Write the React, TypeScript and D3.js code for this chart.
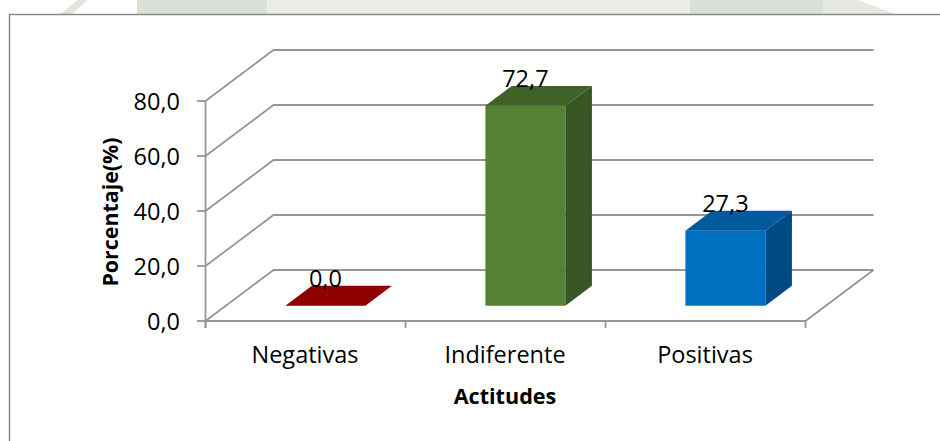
import * as d3 from "d3";

const categories = ["Negativas", "Indiferente", "Positivas"];
const values = [0.0, 72.7, 27.3];
const yTicks = [0, 20, 40, 60, 80];
const frontColors = ["#8f0000", "#548235", "#0070c0"];
const topColors = ["#8f0000", "#3f6229", "#005a9e"];
const sideColors = ["#6e0000", "#375623", "#004a84"];

const W = 940;
const H = 441;
const baseY = 321;
const depthX = 68;
const depthY = 51;
const barFront = 0.3;
const barBack = 0.69;
const barWidth = 80;

const fmt = (v: number) => v.toFixed(1).replace(".", ",");

export default function App() {
  const x = d3.scaleBand<string>().domain(categories).range([205, 805]);
  const y = d3.scaleLinear().domain([0, 80]).range([0, 220]);

  // project (x, value, depth fraction) onto the screen
  const pt = (px: number, v: number, d: number): [number, number] => [
    px + d * depthX,
    baseY - y(v) - d * depthY,
  ];
  const poly = (pts: [number, number][]) => d3.line()(pts.concat([pts[0]])) as string;

  const gridColor = "#969696";
  const font = "'Open Sans', sans-serif";
  const fs = 23.5;

  return (
    <svg
      width={W}
      height={H}
      style={{ position: "absolute", left: 0, top: 0, background: "#fff" }}
    >
      {/* faint watermark above the frame */}
      <g opacity={0.85}>
        <polygon points="60,14 72,14 88,0 78,0" fill="#dde2d7" />
        <rect x={137} y={0} width={130} height={14} fill="#d5dbcf" />
        <rect x={267} y={0} width={423} height={14} fill="#e7eae3" />
        <rect x={690} y={0} width={133} height={14} fill="#d5dbcf" />
        <polygon points="823,0 858,0 895,14 823,14" fill="#e0e5db" />
      </g>
      <rect x={9.5} y={14.5} width={960} height={460} fill="#fff" stroke="#8a8a8a" strokeWidth={1.5} />

      {/* walls and gridlines */}
      {yTicks.map((t) => {
        const a = pt(205.5, t, 0);
        const b = pt(205.5, t, 1);
        const c = pt(805.5, t, 1);
        return (
          <g key={t}>
            <path d={d3.line()([a, b, c]) as string} fill="none" stroke={gridColor} strokeWidth={1.8} />
            <line x1={197} x2={205.5} y1={a[1]} y2={a[1]} stroke={gridColor} strokeWidth={1.8} />
            <text x={180} y={a[1] + 8.5} textAnchor="end" fontFamily={font} fontSize={fs} fill="#000">
              {fmt(t)}
            </text>
          </g>
        );
      })}
      <line x1={205.5} x2={205.5} y1={pt(0, 80, 0)[1]} y2={baseY + 7} stroke={gridColor} strokeWidth={1.8} />
      <path
        d={d3.line()([pt(205.5, 0, 0), pt(805.5, 0, 0), pt(805.5, 0, 1)]) as string}
        fill="none"
        stroke={gridColor}
        strokeWidth={1.8}
      />
      {[...categories.map((c) => x(c) as number), 805].map((px, i) => (
        <line key={i} x1={px + 0.5} x2={px + 0.5} y1={baseY} y2={baseY + 7} stroke={gridColor} strokeWidth={1.8} />
      ))}

      {/* 3D bars */}
      {categories.map((c, i) => {
        const v = values[i];
        const cx = (x(c) as number) + x.bandwidth() / 2;
        const l = cx - barWidth / 2;
        const r = cx + barWidth / 2;
        const front = [pt(l, 0, barFront), pt(r, 0, barFront), pt(r, v, barFront), pt(l, v, barFront)];
        const side = [pt(r, 0, barFront), pt(r, 0, barBack), pt(r, v, barBack), pt(r, v, barFront)];
        const top = [pt(l, v, barFront), pt(r, v, barFront), pt(r, v, barBack), pt(l, v, barBack)];
        const lbl = pt(cx, v, barBack);
        return (
          <g key={c}>
            {v > 0 && <path d={poly(front)} fill={frontColors[i]} />}
            {v > 0 && <path d={poly(side)} fill={sideColors[i]} />}
            <path d={poly(top)} fill={topColors[i]} />
            <text
              x={pt(cx, v, barFront)[0]}
              y={lbl[1] + 1}
              textAnchor="middle"
              fontFamily={font}
              fontSize={fs}
              fill="#000"
            >
              {fmt(v)}
            </text>
            <text x={cx} y={363} textAnchor="middle" fontFamily={font} fontSize={fs} fill="#000">
              {c}
            </text>
          </g>
        );
      })}

      <text x={505} y={404} textAnchor="middle" fontFamily={font} fontSize={21.6} fontWeight="bold" fill="#000">
        Actitudes
      </text>
      <text
        transform="translate(118,212) rotate(-90)"
        textAnchor="middle"
        fontFamily={font}
        fontSize={21.4}
        fontWeight="bold"
        fill="#000"
      >
        Porcentaje(%)
      </text>
    </svg>
  );
}
